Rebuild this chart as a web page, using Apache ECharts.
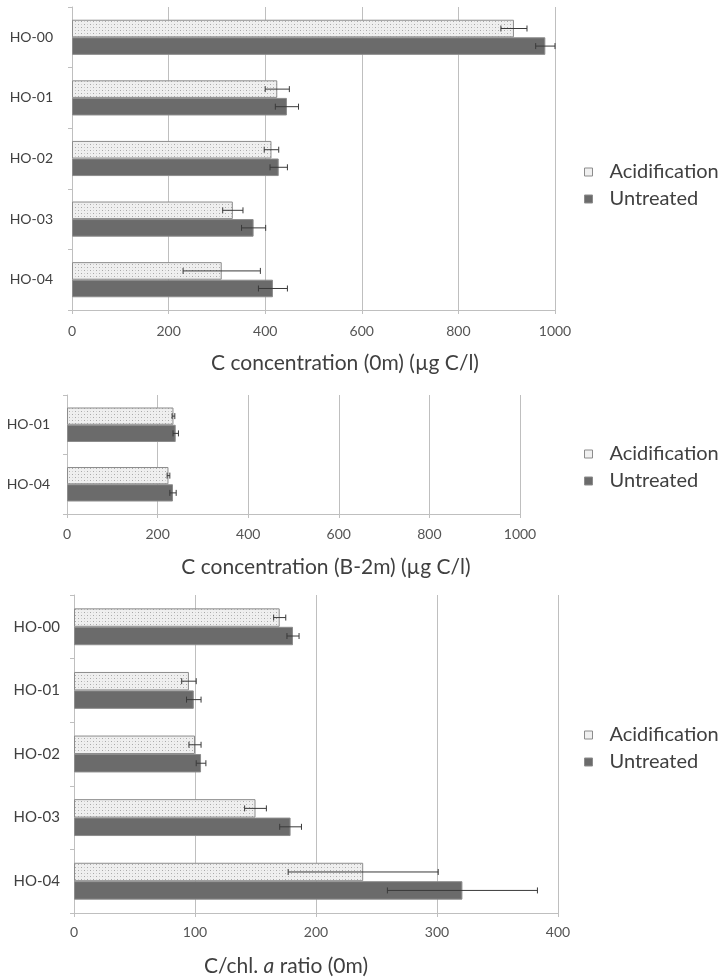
<!DOCTYPE html>
<html><head><meta charset="utf-8">
<script src="https://cdn.jsdelivr.net/npm/echarts@6/dist/echarts.min.js"></script>
<style>html,body{margin:0;padding:0;background:#fff}#c{width:722px;height:979px}</style>
</head><body><div id="c"></div>
<script>
// ---- data ----
const seriesNames = ['Acidification', 'Untreated'];
const cats0m = ['HO-00', 'HO-01', 'HO-02', 'HO-03', 'HO-04'];
const acid0m = [915, 425, 413, 333, 310];
const acid0mErr = [27, 25, 15, 21, 80];
const untr0m = [980, 445, 428, 376, 416];
const untr0mErr = [20, 24, 18, 25, 30];

const catsB2m = ['HO-01', 'HO-04'];
const acidB2m = [235, 224];
const acidB2mErr = [3, 3];
const untrB2m = [240, 234];
const untrB2mErr = [6, 7];

const catsRatio = ['HO-00', 'HO-01', 'HO-02', 'HO-03', 'HO-04'];
const acidRatio = [170, 95, 100, 150, 239];
const acidRatioErr = [5, 6, 5, 9, 62];
const untrRatio = [181, 99, 105, 179, 321];
const untrRatioErr = [5, 6, 4, 9, 62];

const axisTitles = ['C concentration (0m) (µg C/l)', 'C concentration (B-2m) (µg C/l)'];
const concAxis = {min: 0, max: 1000, interval: 200};
const ratioAxis = {min: 0, max: 400, interval: 100};

// ---- styles ----
const FONT = 'Lato';
const TXT = '#404040';
const GRIDC = '#bfbfbf';
const CAT_GAP = 0.42;

function makePattern() {
  const c = document.createElement('canvas');
  c.width = 6; c.height = 6;
  const g = c.getContext('2d');
  g.fillStyle = '#efefef'; g.fillRect(0, 0, 6, 6);
  g.fillStyle = '#a8a8a8';
  g.fillRect(0, 0, 1, 1); g.fillRect(3, 3, 1, 1);
  g.fillStyle = '#cfcfcf';
  g.fillRect(3, 0, 1, 1); g.fillRect(0, 3, 1, 1);
  return c;
}
const acidFill = {image: makePattern(), repeat: 'repeat'};
const acidStyle = {color: acidFill, borderColor: '#8c8c8c', borderWidth: 1};
const untrStyle = {color: '#6b6b6b', borderColor: '#8c8c8c', borderWidth: 1};

function errRender(which) {
  return function (params, api) {
    const v = api.value(0), ci = api.value(1), e = api.value(2);
    const band = api.size([0, 1])[1];
    const bw = band * (1 - CAT_GAP) / 2;
    const c = api.coord([v, ci]);
    const y = c[1] + (which === 0 ? -bw / 2 : bw / 2);
    const x1 = api.coord([v - e, ci])[0], x2 = api.coord([v + e, ci])[0];
    const h = 3;
    const st = {stroke: '#3a3a3a', lineWidth: 1};
    return {type: 'group', children: [
      {type: 'line', shape: {x1: x1, y1: y, x2: x2, y2: y}, style: st},
      {type: 'line', shape: {x1: x1, y1: y - h, x2: x1, y2: y + h}, style: st},
      {type: 'line', shape: {x1: x2, y1: y - h, x2: x2, y2: y + h}, style: st}
    ]};
  };
}

function errData(vals, errs) {
  return vals.map((v, i) => [v, i, errs[i]]);
}

const grids = [
  {left: 72, right: 167, top: 7, height: 303},
  {left: 67, right: 202, top: 395, height: 119},
  {left: 74, right: 164, top: 595, height: 318}
];
const catSets = [cats0m, catsB2m, catsRatio];
const valAx = [concAxis, concAxis, ratioAxis];
const labelMargins = [14, 13, 12];
const ylabMargins = [19, 17, 14];
const ylabSizes = [14, 14, 15];
const sets = [
  [acid0m, acid0mErr, untr0m, untr0mErr],
  [acidB2m, acidB2mErr, untrB2m, untrB2mErr],
  [acidRatio, acidRatioErr, untrRatio, untrRatioErr]
];

const xAxis = [], yAxis = [], series = [], legend = [];
const legendTops = [156, 438, 719];
for (let k = 0; k < 3; k++) {
  xAxis.push({
    type: 'value', gridIndex: k, min: valAx[k].min, max: valAx[k].max, interval: valAx[k].interval,
    axisLine: {show: true, lineStyle: {color: GRIDC}},
    axisTick: {show: true, length: 4, lineStyle: {color: GRIDC}},
    axisLabel: {color: '#555', fontSize: 14, fontFamily: FONT, margin: labelMargins[k],
      formatter: function (v) { return String(v); }},
    splitLine: {show: true, lineStyle: {color: GRIDC, width: 1}}
  });
  yAxis.push({
    type: 'category', gridIndex: k, data: catSets[k], inverse: true,
    axisLine: {show: true, lineStyle: {color: GRIDC}},
    axisTick: {show: true, length: 4, lineStyle: {color: GRIDC}},
    axisLabel: {color: TXT, fontSize: ylabSizes[k], fontFamily: FONT, margin: ylabMargins[k]},
    splitLine: {show: false}
  });
  const [a, ae, u, ue] = sets[k];
  series.push({
    name: seriesNames[0], type: 'bar', xAxisIndex: k, yAxisIndex: k, data: a,
    barGap: '0%', barCategoryGap: (CAT_GAP * 100) + '%', itemStyle: acidStyle, silent: true
  });
  series.push({
    name: seriesNames[1], type: 'bar', xAxisIndex: k, yAxisIndex: k, data: u,
    barGap: '0%', barCategoryGap: (CAT_GAP * 100) + '%', itemStyle: untrStyle, silent: true
  });
  series.push({
    type: 'custom', xAxisIndex: k, yAxisIndex: k, data: errData(a, ae),
    encode: {x: 0, y: 1}, renderItem: errRender(0), z: 10, silent: true
  });
  series.push({
    type: 'custom', xAxisIndex: k, yAxisIndex: k, data: errData(u, ue),
    encode: {x: 0, y: 1}, renderItem: errRender(1), z: 10, silent: true
  });
  legend.push({
    left: 579, top: legendTops[k], orient: 'vertical', itemGap: 5,
    itemWidth: 8, itemHeight: 8, icon: 'rect',
    textStyle: {fontSize: 20, fontFamily: FONT, color: TXT, lineHeight: 22, padding: [0, 0, 0, 12]},
    data: [
      {name: seriesNames[0], itemStyle: {color: '#f0f0f0', borderColor: '#8c8c8c', borderWidth: 1}},
      {name: seriesNames[1], itemStyle: {color: '#6b6b6b', borderColor: '#8c8c8c', borderWidth: 1}}
    ],
    selectedMode: false
  });
}

const titleStyle = {fontSize: 21, fontFamily: FONT, fill: TXT, textAlign: 'center', textVerticalAlign: 'middle'};
const graphic = [
  {type: 'text', x: 345, y: 363, style: Object.assign({text: axisTitles[0]}, titleStyle)},
  {type: 'text', x: 326, y: 567, style: Object.assign({text: axisTitles[1]}, titleStyle)},
  {type: 'text', x: 286, y: 966, style: Object.assign({
    text: '{n|C/chl. }{i|a}{n| ratio (0m)}',
    rich: {
      n: {fontSize: 21, fontFamily: FONT, fill: TXT, color: TXT},
      i: {fontSize: 21, fontFamily: FONT, fontStyle: 'italic', fill: TXT, color: TXT}
    }
  }, titleStyle)}
];

const chart = echarts.init(document.getElementById('c'), null, {renderer: 'canvas'});
chart.setOption({
  animation: false,
  backgroundColor: '#ffffff',
  grid: grids,
  xAxis: xAxis,
  yAxis: yAxis,
  legend: legend,
  series: series,
  graphic: graphic
});
</script>
</body></html>
